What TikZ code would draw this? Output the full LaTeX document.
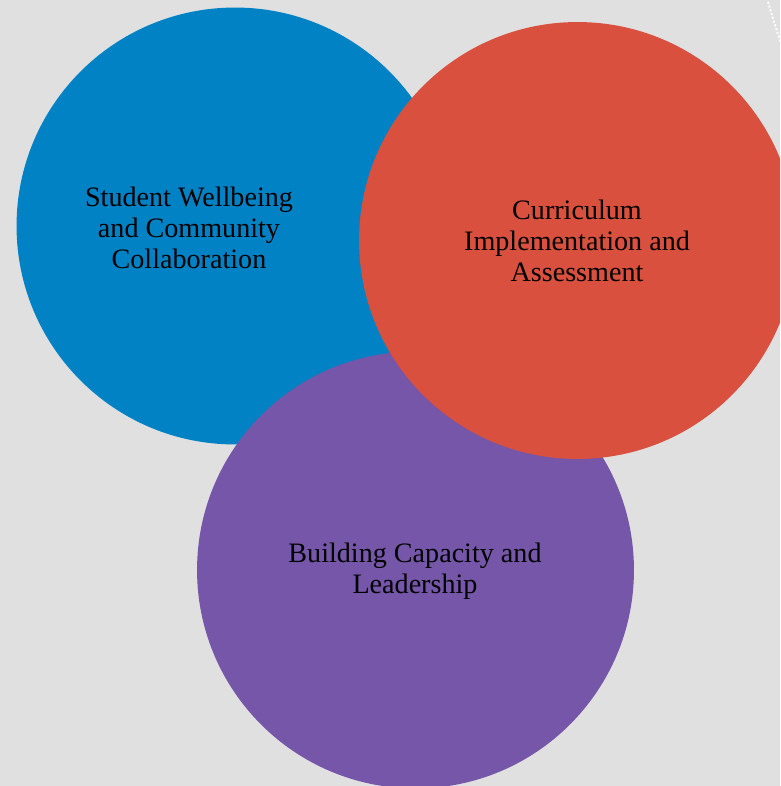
\documentclass[tikz,border=0pt]{standalone}
\usepackage{fontspec}
\setmainfont{Liberation Serif}
\usepackage{tikz}

\definecolor{bgray}{HTML}{E0E0E0}
\definecolor{wellblue}{HTML}{0082C4}
\definecolor{currred}{HTML}{D9503F}
\definecolor{leadpurple}{HTML}{7556A8}

\begin{document}
\begin{tikzpicture}[x=0.025cm, y=-0.025cm, every node/.style={font=\fontsize{20}{22}\selectfont}, disc/.style={circle, inner sep=0pt, minimum size=10.92cm}, lbl/.style={align=center, text=black}]
	\fill[bgray] (0,0) rectangle (780,786);
	\clip (0,0) rectangle (780,786);
	\node[disc, fill=wellblue] (w) at (235,226) {};
	\node[disc, fill=leadpurple] (b) at (415.5,570) {};
	\node[disc, fill=currred] (c) at (577.5,240.5) {};
	\node[lbl] (wt) at (189,228) {Student Wellbeing\\ and Community\\ Collaboration};
	\node[lbl] (ct) at (577,241) {Curriculum\\ Implementation and\\ Assessment};
	\node[lbl] (bt) at (415,571) {Building Capacity and\\ Leadership};
	\draw[white, line width=1.4pt, dash pattern=on 1.4pt off 1.4pt] (767,-2) .. controls (772,16) .. (782,46);
\end{tikzpicture}
\end{document}
